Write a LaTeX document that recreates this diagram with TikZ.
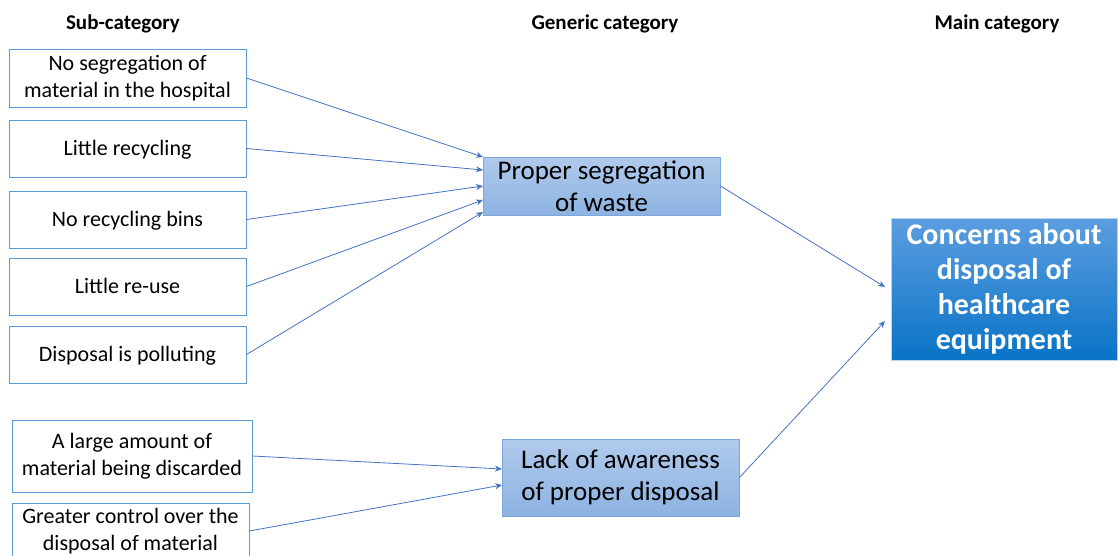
\documentclass[tikz,border=0pt]{standalone}
\usepackage{fontspec}
\setmainfont{Carlito}
\usetikzlibrary{arrows.meta}
\definecolor{boxline}{HTML}{5B9BD5}
\definecolor{arr}{HTML}{4472C4}
\definecolor{gtop}{HTML}{B0CAEC}
\definecolor{gbot}{HTML}{8DB3E2}
\definecolor{gline}{HTML}{7EA6DB}
\definecolor{mtop}{HTML}{5D9DE0}
\definecolor{mbot}{HTML}{0873C6}
\tikzset{
  subbox/.style={draw=boxline, line width=0.9pt, fill=white, minimum width=237pt, align=center, font=\fontsize{22}{27}\selectfont, inner sep=0pt},
  genbox/.style={draw=gline, line width=0.9pt, top color=gtop, bottom color=gbot, minimum width=237pt, align=center, font=\fontsize{27}{32}\selectfont, inner sep=0pt},
  mainbox/.style={draw=white!70!mbot, line width=0.9pt, top color=mtop, bottom color=mbot, text=white, minimum width=226pt, minimum height=142pt, align=center, font=\fontsize{30}{35}\selectfont\bfseries, inner sep=0pt},
  hdr/.style={font=\fontsize{21}{25}\selectfont\bfseries},
  conn/.style={draw=arr, line width=0.8pt, -{Stealth[length=7pt,width=6pt]}},
  lowtext/.style={text height=16pt, text depth=2pt}
}
\begin{document}
\begin{tikzpicture}[x=1pt,y=-1pt]
\useasboundingbox (0,0) rectangle (1118,555);
\node[hdr] (h1) at (123,24) {Sub-category};
\node[hdr] (h2) at (605,24) {Generic category};
\node[hdr] (h3) at (997,24) {Main category};

\node[subbox, minimum height=58pt] (s1) at (127.5,78) {No segregation of\\material in the hospital};
\node[subbox, minimum height=57pt, lowtext] (s2) at (127.5,148.5) {Little recycling};
\node[subbox, minimum height=57pt, lowtext] (s3) at (127.5,219.5) {No recycling bins};
\node[subbox, minimum height=57pt, lowtext] (s4) at (127.5,286.5) {Little re-use};
\node[subbox, minimum height=57pt, lowtext] (s5) at (127.5,354.5) {Disposal is polluting};
\node[subbox, minimum width=240pt, minimum height=72pt] (s6) at (132,456) {A large amount of\\material being discarded};
\node[subbox, anchor=north, inner ysep=5pt] (s7) at (130.5,503) {Greater control over the\\disposal of material\\[24pt]};

\node[genbox, minimum height=58pt] (g1) at (601.5,186) {Proper segregation\\of waste};
\node[genbox, minimum height=77pt] (g2) at (620.5,477.5) {Lack of awareness\\of proper disposal};

\node[mainbox] (m) at (1004,289) {Concerns about\\disposal of\\healthcare\\equipment};

\coordinate (g1a) at (483,157);
\coordinate (g1b) at (483,170);
\coordinate (g1c) at (483,186);
\coordinate (g1d) at (483,200);
\coordinate (g1e) at (483,212);
\coordinate (g2a) at (502,469);
\coordinate (g2b) at (502,485);
\coordinate (ma) at (885,287);
\coordinate (mb) at (885,321);

\draw[conn] (s1.east) -- (g1a);
\draw[conn] (s2.east) -- (g1b);
\draw[conn] (s3.east) -- (g1c);
\draw[conn] (s4.east) -- (g1d);
\draw[conn] (s5.east) -- (g1e);
\draw[conn] (s6.east) -- (g2a);
\draw[conn] (s7.east |- 0,531) -- (g2b);
\draw[conn] (g1.east) -- (ma);
\draw[conn] (g2.east) -- (mb);
\end{tikzpicture}
\end{document}
